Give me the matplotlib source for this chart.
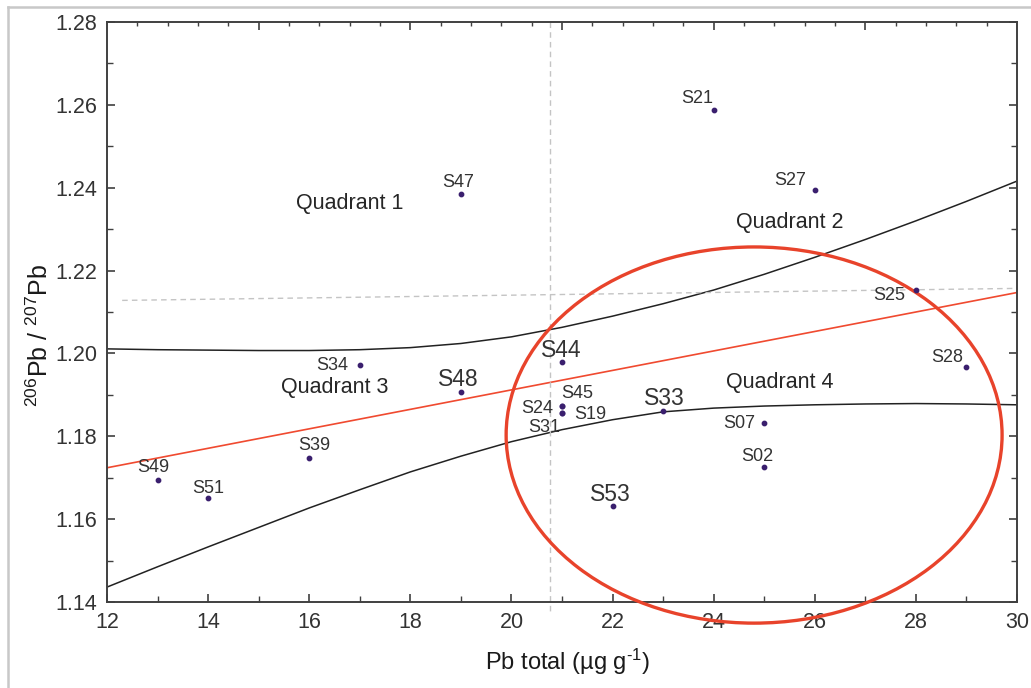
import numpy as np
import matplotlib
matplotlib.use('Agg')
import matplotlib.pyplot as plt
from matplotlib.patches import Ellipse
from matplotlib.lines import Line2D

plt.rcParams['font.family'] = ['Liberation Sans', 'DejaVu Sans']
plt.rcParams['mathtext.fontset'] = 'custom'
plt.rcParams['mathtext.rm'] = 'Liberation Sans'
plt.rcParams['mathtext.it'] = 'Liberation Sans:italic'

# 시료별 Pb 총량과 206Pb/207Pb 비
samples = ['S21', 'S27', 'S47', 'S25', 'S28', 'S44', 'S34', 'S48', 'S45', 'S24',
           'S19', 'S31', 'S33', 'S07', 'S02', 'S53', 'S39', 'S49', 'S51']
pb_total = [24, 26, 19, 28, 29, 21, 17, 19, 21, 21,
            21, 21, 23, 25, 25, 22, 16, 13, 14]
ratio = [1.2588, 1.2394, 1.2385, 1.2153, 1.1967, 1.1979, 1.1972, 1.1907, 1.1873, 1.1873,
         1.1856, 1.1856, 1.1861, 1.1832, 1.1726, 1.1632, 1.1748, 1.1695, 1.1651]
big_labels = ['S44', 'S48', 'S33', 'S53']

# 회귀선과 신뢰대
fit_x = [12, 30]
fit_y = [1.1724, 1.2147]
band_x = [12, 13, 14, 15, 16, 17, 18, 19, 20, 21, 22, 23, 24, 25, 26, 27, 28, 29, 30]
band_up = [1.2011, 1.2009, 1.2008, 1.2007, 1.2007, 1.2009, 1.2014, 1.2024, 1.2040, 1.2063,
           1.2090, 1.2120, 1.2153, 1.2191, 1.2232, 1.2275, 1.2320, 1.2367, 1.2416]
band_lo = [1.1436, 1.1485, 1.1533, 1.1580, 1.1627, 1.1671, 1.1714, 1.1752, 1.1787, 1.1816,
           1.1840, 1.1859, 1.1868, 1.1873, 1.1876, 1.1878, 1.1879, 1.1878, 1.1876]

# 사분면 기준선
vline_x = 20.76
hline_x = [12.3, 30]
hline_y = [1.2128, 1.2157]

# 타원 (중심, 폭, 높이)
ell_center = (24.8, 1.1803)
ell_w, ell_h = 9.81, 0.0908

quadrants = [('Quadrant 1', 16.8, 1.2363), ('Quadrant 2', 25.5, 1.2317),
             ('Quadrant 3', 16.5, 1.1917), ('Quadrant 4', 25.3, 1.1929)]

# 라벨 위치 (점 기준 픽셀 오프셋)
offsets = {'S21': (-16, 11), 'S27': (-25, 10), 'S47': (-3, 11), 'S25': (-27, -5),
           'S28': (-19, 10), 'S44': (-1, 12), 'S34': (-28, 0), 'S48': (-3, 12),
           'S45': (15, 13), 'S24': (-25, -2), 'S19': (28, -1), 'S31': (-18, -14),
           'S33': (1, 13), 'S07': (-25, 0), 'S02': (-7, 10), 'S53': (-2, 11),
           'S39': (5, 12), 'S49': (-4, 12), 'S51': (0, 10)}

fig = plt.figure(figsize=(10.31, 6.88), dpi=100)
ax = fig.add_axes([107/1031, 86/688, 910/1031, 580/688])

ax.plot(band_x, band_up, color='#222222', lw=1.1)
ax.plot(band_x, band_lo, color='#222222', lw=1.1)
ax.plot(fit_x, fit_y, color='#f04a30', lw=1.2)

ax.plot([vline_x, vline_x], [1.28, 1.137], color='#c4c4c4', lw=1, ls=(0, (4, 3)), clip_on=False)
ax.plot(hline_x, hline_y, color='#c4c4c4', lw=1, ls=(0, (4, 3)))

ax.add_patch(Ellipse(ell_center, ell_w, ell_h, fill=False, edgecolor='#e8432b', lw=2.4, clip_on=False, zorder=4))

ax.scatter(pb_total, ratio, s=10, color='#3a1f6e', zorder=5)
for name, x, y in zip(samples, pb_total, ratio):
    fs = 16.5 if name in big_labels else 13
    ax.annotate(name, (x, y), xytext=offsets[name], textcoords='offset pixels',
                ha='center', va='center', fontsize=fs, color='#333333')

for txt, x, y in quadrants:
    ax.text(x, y, txt, ha='center', va='center', fontsize=15.5, color='#262626')

ax.set_xlim(12, 30)
ax.set_ylim(1.14, 1.28)
ax.set_xticks(np.arange(12, 31, 2))
ax.set_xticks(np.arange(13, 30, 2), minor=True)
ax.set_yticks(np.arange(1.14, 1.281, 0.02))
ax.set_yticks(np.arange(1.15, 1.28, 0.02), minor=True)
ax.yaxis.set_major_formatter(plt.FormatStrFormatter('%.2f'))
ax.tick_params(which='both', direction='in', right=True, colors='#404040', labelcolor='#333333')
ax.tick_params(which='major', length=6, width=1.2, labelsize=15.5, pad=7)
ax.tick_params(which='minor', length=4, width=1)

# 상단 축 눈금 (0.6 간격)
top = ax.secondary_xaxis('top')
top.set_xticks(np.arange(15, 30, 3))
top.set_xticks(np.arange(12.6, 30, 0.6), minor=True)
top.tick_params(which='both', direction='in', labeltop=False, colors='#404040')
top.tick_params(which='major', length=6, width=1.2)
top.tick_params(which='minor', length=3, width=1)
top.spines['top'].set_visible(False)

for s in ax.spines.values():
    s.set_color('#404040')
    s.set_linewidth(1.4)

fig.text(40/1031, 1 - 335/688, '$^{206}$Pb / $^{207}$Pb', rotation=90,
         ha='center', va='center', fontsize=18, color='#1a1a1a')
fig.text(568/1031, 1 - 662/688, 'Pb total (µg g$^{\\text{-1}}$)',
         ha='center', va='center', fontsize=17, color='#1a1a1a')

# 그림 테두리 (좌, 상)
fig.add_artist(Line2D([8/1031, 8/1031], [0, 1 - 7/688], color='#c8c8c8', lw=1.8))
fig.add_artist(Line2D([8/1031, 1], [1 - 7/688, 1 - 7/688], color='#c8c8c8', lw=1.8))

fig.savefig('out.png', dpi=100)
